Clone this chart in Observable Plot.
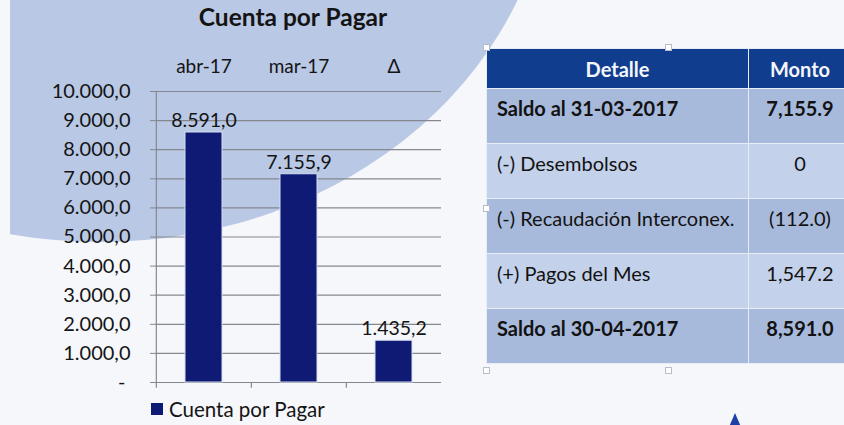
<!DOCTYPE html>
<html><head><meta charset="utf-8">
<script src="https://cdn.jsdelivr.net/npm/d3@7"></script>
<script src="https://cdn.jsdelivr.net/npm/@observablehq/plot@0.6"></script>
<style>
body{margin:0;background:#f6f7fa;font-family:Lato,"Open Sans",sans-serif;}
#page{position:relative;width:844px;height:425px;overflow:hidden;background:#f6f7fa;}
#blob{position:absolute;left:-352px;top:-542px;width:904px;height:784px;border-radius:50%;background:#b8c8e5;}
#strip{position:absolute;left:0;top:0;width:10px;height:425px;background:#f6f7fa;}
#title{position:absolute;left:0;width:586px;top:2px;text-align:center;font-weight:700;font-size:24.5px;color:#141414;}
#chart{position:absolute;left:0;top:40px;}
#legend{position:absolute;left:151px;top:397px;font-size:20.5px;color:#141414;display:flex;align-items:center;}
#legend .sw{width:12px;height:12px;background:#0e1a74;margin-right:6px;}
#table{position:absolute;left:486px;top:48px;width:366px;border:1px solid #9aa3b5;border-collapse:collapse;}
#table td,#table th{border:1px solid #e7ecf6;padding:0;}
#table th{background:#103d8d;color:#f4f6fb;font-weight:700;font-size:20px;height:39px;}
#table td{height:55px;vertical-align:top;font-size:20px;color:#121212;line-height:24px;padding-top:7px;box-sizing:border-box;}
#table td.l{padding-left:10px;width:262px;}
#table td.r{text-align:center;}
#table tr.dark td{background:#a8badc;}
#table tr.light td{background:#c3d1ea;}
#table tr.b td{font-weight:700;}
.h{position:absolute;width:5px;height:5px;background:#fff;border:1px solid #b8bec9;}
#tri{position:absolute;left:729px;top:413px;width:0;height:0;border-left:6px solid transparent;border-right:6px solid transparent;border-bottom:14px solid #1c3fa8;}
</style>
</head><body>
<div id="page">
  <div id="blob"></div><div id="strip"></div>
  <div id="title"></div>
  <div id="chart"></div>
  <div id="legend"></div>
  <table id="table"></table>
  <div class="h" style="left:483px;top:44px"></div>
  <div class="h" style="left:665px;top:44px"></div>
  <div class="h" style="left:483px;top:205px"></div>
  <div class="h" style="left:483px;top:367px"></div>
  <div class="h" style="left:665px;top:367px"></div>
  <div id="tri"></div>
</div>
<script>
const chartTitle = "Cuenta por Pagar";
const categories = ["abr-17", "mar-17", "Δ"];
const values = [8591.0, 7155.9, 1435.2];
const yTicks = [0, 1000, 2000, 3000, 4000, 5000, 6000, 7000, 8000, 9000, 10000];
const seriesName = "Cuenta por Pagar";
const tableHeader = ["Detalle", "Monto"];
const tableLabels = ["Saldo al 31-03-2017", "(-) Desembolsos", "(-) Recaudación Interconex.", "(+) Pagos del Mes", "Saldo al 30-04-2017"];
const tableValues = ["7,155.9", "0", "(112.0)", "1,547.2", "8,591.0"];

const navy = "#0e1a74";
const loc = d3.formatLocale({decimal: ",", thousands: ".", grouping: [3], currency: ["", ""]});
const fmt = loc.format(",.1f");
const tickFmt = d => d === 0 ? "- " : fmt(d);

const data = categories.map((c, i) => ({cat: c, value: values[i]}));

const W = 480, H = 355, mL = 155, mR = 39, mT = 51, mB = 13;
const step = (W - mL - mR) / categories.length;

const plot = Plot.plot({
  width: W, height: H,
  marginLeft: mL, marginRight: mR, marginTop: mT, marginBottom: mB,
  style: {fontFamily: "Lato, 'Open Sans', sans-serif", fontSize: "19px", background: "transparent", color: "#141414", overflow: "visible"},
  x: {domain: categories, paddingInner: 0.612, paddingOuter: 0.306, label: null},
  y: {domain: [0, 10000], label: null},
  marks: [
    Plot.ruleY(yTicks, {y: d => d, stroke: "#85888f", strokeWidth: 1.2}),
    Plot.ruleX([categories[0]], {x: d => d, dx: -step / 2, y1: -200, y2: 10000, stroke: "#85888f", strokeWidth: 1.2}),
    Plot.ruleX(categories.slice(1), {x: d => d, dx: -step / 2, y1: -200, y2: 0, stroke: "#85888f", strokeWidth: 1.2}),
    Plot.barY(data, {x: "cat", y: "value", fill: navy, stroke: "#d6def0", strokeWidth: 1}),
    Plot.text(data, {x: "cat", y: "value", text: d => fmt(d.value), dy: -12, fill: "#141414", fontSize: 19.5}),
    Plot.axisY({ticks: yTicks, tickFormat: tickFmt, tickSize: 5, tickPadding: 20, stroke: "#85888f", fill: "#141414", fontSize: 20}),
    Plot.axisX({anchor: "top", tickSize: 0, tickPadding: 19, fill: "#141414", fontSize: 19})
  ]
});
document.getElementById("chart").appendChild(plot);
document.getElementById("title").textContent = chartTitle;

const lg = document.getElementById("legend");
lg.innerHTML = `<span class="sw"></span><span></span>`;
lg.lastChild.textContent = seriesName;

const tb = document.getElementById("table");
let html = `<tr><th>${tableHeader[0]}</th><th>${tableHeader[1]}</th></tr>`;
tableLabels.forEach((l, i) => {
  const cls = (i % 2 === 0 ? "dark" : "light") + (i === 0 || i === tableLabels.length - 1 ? " b" : "");
  html += `<tr class="${cls}"><td class="l">${l}</td><td class="r">${tableValues[i]}</td></tr>`;
});
tb.innerHTML = html;
</script>
</body></html>
